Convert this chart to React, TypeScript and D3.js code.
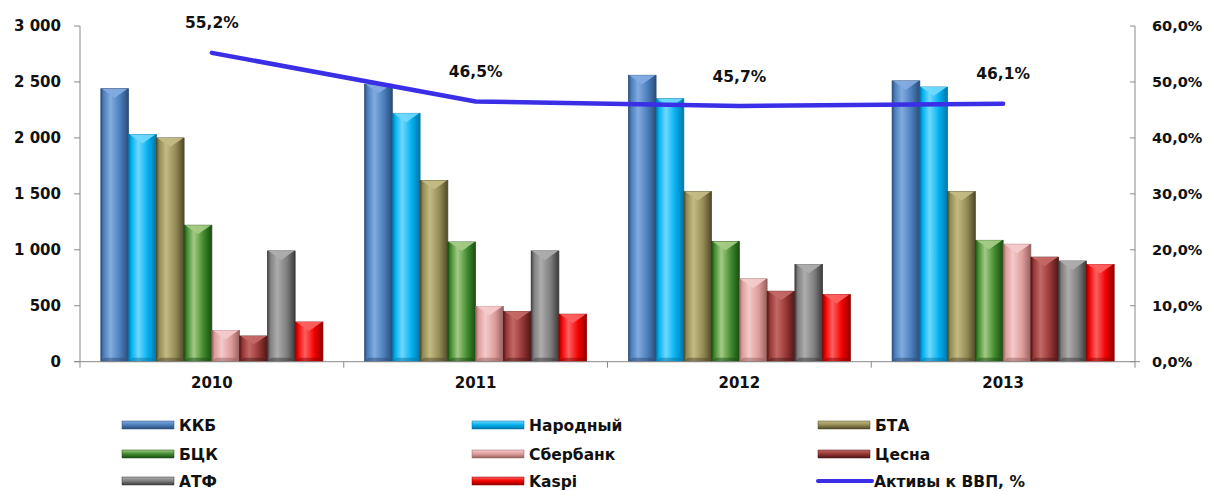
import React from "react";
import * as d3 from "d3";

const years = ["2010", "2011", "2012", "2013"];
const seriesNames = ["ККБ", "Народный", "БТА", "БЦК", "Сбербанк", "Цесна", "АТФ", "Kaspi"];
const kkb = [2440, 2480, 2560, 2510];
const narodny = [2030, 2220, 2350, 2455];
const bta = [2000, 1620, 1520, 1520];
const bck = [1220, 1070, 1075, 1085];
const sber = [280, 495, 740, 1050];
const tsesna = [230, 450, 630, 935];
const atf = [990, 990, 870, 900];
const kaspi = [355, 425, 600, 870];
const gdpShare = [55.2, 46.5, 45.7, 46.1];
const leftTicks = [0, 500, 1000, 1500, 2000, 2500, 3000];
const rightTicks = [0, 10, 20, 30, 40, 50, 60];
const lineName = "Активы к ВВП, %";

const seriesValues = [kkb, narodny, bta, bck, sber, tsesna, atf, kaspi];
const palette = [
  { dark: "#2b4c78", base: "#4a7ebb", light: "#82abe0" },
  { dark: "#0075a6", base: "#00b0f0", light: "#6fd8ff" },
  { dark: "#4f4828", base: "#948a54", light: "#c4bb84" },
  { dark: "#1a4d12", base: "#3f8a2e", light: "#a4ca84" },
  { dark: "#96605e", base: "#dc9c9a", light: "#f4caca" },
  { dark: "#4e1716", base: "#943634", light: "#c46866" },
  { dark: "#3a3a3a", base: "#7f7f7f", light: "#adadad" },
  { dark: "#900000", base: "#f20000", light: "#ff6060" },
];

const FONT = "'DejaVu Sans', sans-serif";
const AXIS = "#8a8a8a";

export default function App() {
  const left = 80, right = 1135, top = 26, bottom = 361.7;
  const x0 = d3.scaleBand<string>().domain(years).range([left, right]).paddingInner(0.158).paddingOuter(0.079);
  const x1 = d3.scaleBand<string>().domain(seriesNames).range([0, x0.bandwidth()]).padding(0);
  const y = d3.scaleLinear().domain([0, 3000]).range([bottom, top]);
  const y2 = d3.scaleLinear().domain([0, 60]).range([bottom, top]);
  const step = (right - left) / years.length;
  const cx = (yr: string) => left + step * years.indexOf(yr) + step / 2;

  const linePath = d3
    .line<number>()
    .x((_, i) => cx(years[i]))
    .y((d) => y2(d))(gdpShare) as string;

  const legendCols = [122, 472, 818];
  const legendRows = [425, 454, 481];
  const legendItems = [...seriesNames, lineName];

  const bw = x1.bandwidth();

  return (
    <svg width={1211} height={491} style={{ position: "absolute", left: 0, top: 0, background: "#fff" }}>
      <defs>
        {palette.map((p, i) => (
          <linearGradient key={i} id={`g${i}`} x1="0" x2="1" y1="0" y2="0">
            <stop offset="0" stopColor={p.dark} />
            <stop offset="0.1" stopColor={p.base} />
            <stop offset="0.35" stopColor={p.light} />
            <stop offset="0.7" stopColor={p.base} />
            <stop offset="1" stopColor={p.dark} />
          </linearGradient>
        ))}
        {palette.map((p, i) => (
          <linearGradient key={"l" + i} id={`lg${i}`} x1="0" x2="0" y1="0" y2="1">
            <stop offset="0" stopColor={p.light} />
            <stop offset="0.5" stopColor={p.base} />
            <stop offset="1" stopColor={p.dark} />
          </linearGradient>
        ))}
      </defs>

      {/* bars */}
      {years.map((yr, yi) => (
        <g key={yr} transform={`translate(${x0(yr)},0)`}>
          {seriesNames.map((s, si) => {
            const v = seriesValues[si][yi];
            const yy = y(v);
            const h = bottom - yy;
            const bx = x1(s) as number;
            const bev = Math.min(9, h / 3);
            const p = palette[si];
            return (
              <g key={s}>
                <rect x={bx} y={yy} width={bw} height={h} fill={`url(#g${si})`} stroke={p.dark} strokeWidth={0.7} />
                <polygon
                  points={`${bx + 1},${yy} ${bx + bw - 1},${yy} ${bx + bw / 2},${yy + bev}`}
                  fill={p.light}
                  opacity={0.95}
                />
                <polygon
                  points={`${bx},${bottom} ${bx + bw},${bottom} ${bx + bw - 4},${bottom - 4} ${bx + 4},${bottom - 4}`}
                  fill={p.dark}
                  opacity={0.5}
                />
              </g>
            );
          })}
        </g>
      ))}

      {/* axes */}
      <line x1={left} x2={left} y1={top} y2={bottom} stroke={AXIS} />
      <line x1={right} x2={right} y1={top} y2={bottom} stroke={AXIS} />
      <line x1={left - 6} x2={right + 5} y1={bottom} y2={bottom} stroke={AXIS} />
      {leftTicks.map((t) => (
        <g key={t}>
          <line x1={left - 6} x2={left} y1={y(t)} y2={y(t)} stroke={AXIS} />
          <text x={61} y={y(t)} dy="0.36em" textAnchor="end" fontFamily={FONT} fontWeight="bold" fontSize={15} fill="#111">
            {d3.format(",")(t).replace(/,/g, " ")}
          </text>
        </g>
      ))}
      {rightTicks.map((t) => (
        <g key={t}>
          <line x1={right - 5} x2={right} y1={y2(t)} y2={y2(t)} stroke={AXIS} />
          <text x={1152} y={y2(t)} dy="0.36em" textAnchor="start" fontFamily={FONT} fontWeight="bold" fontSize={14.5} fill="#111">
            {t.toFixed(1).replace(".", ",")}%
          </text>
        </g>
      ))}
      {[...years, "end"].map((_, i) => (
        <line key={i} x1={left + step * i} x2={left + step * i} y1={bottom} y2={bottom + 6} stroke={AXIS} />
      ))}
      {years.map((yr) => (
        <text key={yr} x={cx(yr)} y={383} dy="0.36em" textAnchor="middle" fontFamily={FONT} fontWeight="bold" fontSize={15} fill="#111">
          {yr}
        </text>
      ))}

      {/* line */}
      <path d={linePath} fill="none" stroke="#3a2ee6" strokeWidth={4.5} strokeLinejoin="round" strokeLinecap="round" />
      {gdpShare.map((v, i) => (
        <text
          key={i}
          x={cx(years[i])}
          y={y2(v) - 30}
          dy="0.36em"
          textAnchor="middle"
          fontFamily={FONT}
          fontWeight="bold"
          fontSize={15.5}
          fill="#111"
        >
          {v.toFixed(1).replace(".", ",")}%
        </text>
      ))}

      {/* legend */}
      {legendItems.map((name, i) => {
        const col = legendCols[i % 3];
        const row = legendRows[Math.floor(i / 3)];
        const isLine = i === legendItems.length - 1;
        return (
          <g key={name}>
            {isLine ? (
              <line x1={col} x2={col + 54} y1={row} y2={row} stroke="#3a2ee6" strokeWidth={4} strokeLinecap="round" />
            ) : (
              <rect x={col} y={row - 4} width={52} height={8} fill={`url(#lg${i})`} stroke={palette[i].dark} strokeWidth={0.5} />
            )}
            <text x={col + (isLine ? 56 : 57)} y={row} dy="0.36em" fontFamily={FONT} fontWeight="bold" fontSize={15.5} fill="#111">
              {name}
            </text>
          </g>
        );
      })}
    </svg>
  );
}
